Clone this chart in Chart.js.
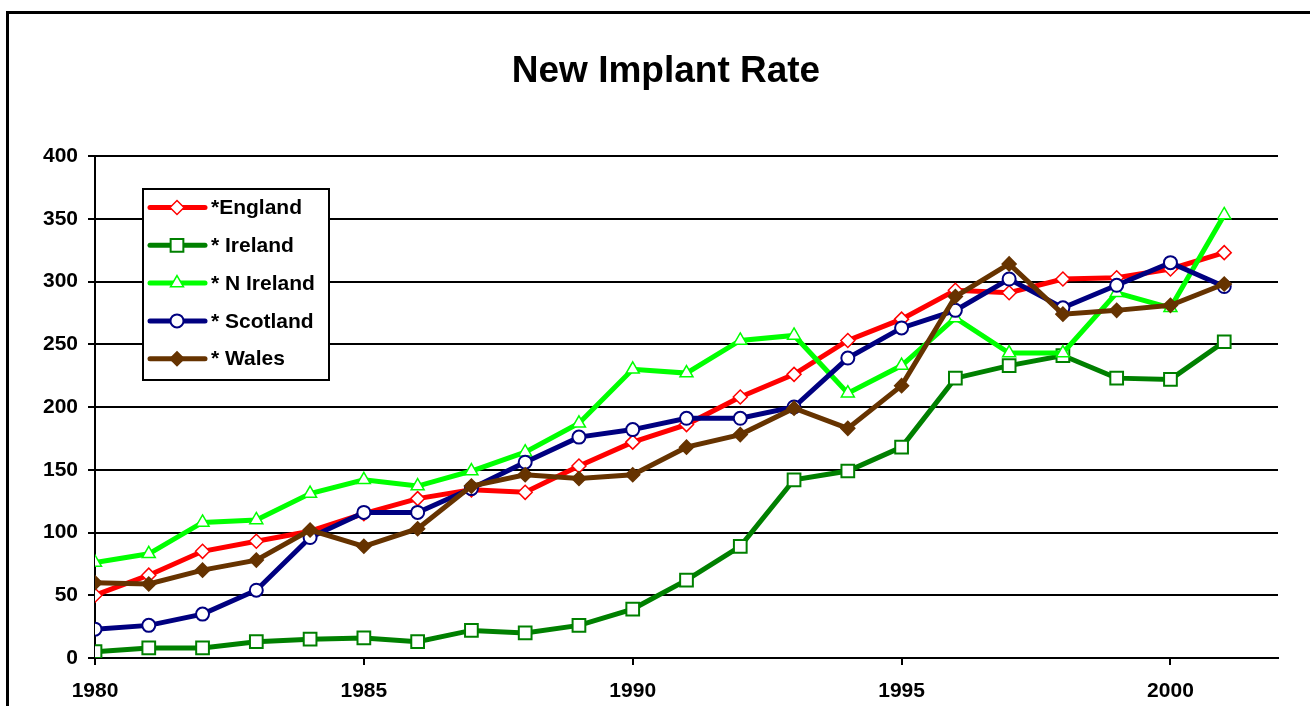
<!DOCTYPE html>
<html>
<head>
<meta charset="utf-8">
<script src="https://cdn.jsdelivr.net/npm/chart.js@4/dist/chart.umd.min.js"></script>
<style>
  html, body { margin: 0; padding: 0; background: #fff; }
  #wrap { width: 1310px; height: 706px; position: relative; }
</style>
</head>
<body>
<div id="wrap"><canvas id="c" width="1310" height="706"></canvas></div>
<script>
const chartTitle = "New Implant Rate";
const years = [1980, 1981, 1982, 1983, 1984, 1985, 1986, 1987, 1988, 1989, 1990, 1991, 1992, 1993, 1994, 1995, 1996, 1997, 1998, 1999, 2000, 2001];
const seriesNames = ["*England", "* Ireland", "* N Ireland", "* Scotland", "* Wales"];
const england  = [50, 66, 85, 93, 101, 115, 127, 134, 132, 153, 172, 186, 208, 226, 253, 270, 293, 291, 302, 303, 310, 323];
const ireland  = [5, 8, 8, 13, 15, 16, 13, 22, 20, 26, 39, 62, 89, 142, 149, 168, 223, 233, 241, 223, 222, 252];
const nireland = [76, 83, 108, 110, 131, 142, 137, 149, 164, 187, 230, 227, 253, 257, 211, 233, 271, 243, 243, 291, 279, 353];
const scotland = [23, 26, 35, 54, 96, 116, 116, 135, 156, 176, 182, 191, 191, 200, 239, 263, 277, 302, 279, 297, 315, 296];
const wales    = [60, 59, 70, 78, 102, 89, 103, 137, 146, 143, 146, 168, 178, 199, 183, 217, 288, 314, 274, 277, 281, 298];
const xTickLabels = [1980, 1985, 1990, 1995, 2000];
const yTickValues = [0, 50, 100, 150, 200, 250, 300, 350, 400];

const FONT = "'Liberation Sans', Arial, sans-serif";

function pts(vals) { return years.map((y, i) => ({ x: y, y: vals[i] })); }

const styles = [
  { color: '#FF0000', pointStyle: 'rectRot', radius: 7, fill: '#FFFFFF', bw: 1.5, order: 5 },
  { color: '#008000', pointStyle: 'rect', radius: 9, fill: '#FFFFFF', bw: 2, order: 4 },
  { color: '#00FF00', pointStyle: 'triangle', radius: 7.5, fill: '#FFFFFF', bw: 1.5, order: 3 },
  { color: '#000080', pointStyle: 'circle', radius: 6.5, fill: '#FFFFFF', bw: 2, order: 2 },
  { color: '#663300', pointStyle: 'rectRot', radius: 7, fill: '#663300', bw: 1.5, order: 1 }
];
const seriesData = [england, ireland, nireland, scotland, wales];

const datasets = seriesData.map((vals, i) => ({
  label: seriesNames[i],
  data: pts(vals),
  borderColor: styles[i].color,
  backgroundColor: styles[i].fill,
  borderWidth: 5,
  pointStyle: styles[i].pointStyle,
  pointRadius: styles[i].radius,
  pointHoverRadius: styles[i].radius,
  pointBackgroundColor: styles[i].fill,
  pointBorderColor: styles[i].color,
  pointBorderWidth: styles[i].bw,
  tension: 0,
  order: styles[i].order
}));

const framePlugin = {
  id: 'frame',
  beforeDraw(chart) {
    const ctx = chart.ctx;
    ctx.save();
    ctx.fillStyle = '#fff';
    ctx.fillRect(0, 0, chart.width, chart.height);
    ctx.strokeStyle = '#000';
    ctx.lineWidth = 3;
    ctx.strokeRect(7.5, 12.5, chart.width + 20, chart.height + 20);
    ctx.fillStyle = '#000';
    ctx.font = 'bold 37px ' + FONT;
    ctx.textAlign = 'center';
    ctx.textBaseline = 'alphabetic';
    ctx.fillText(chartTitle, 666, 82);
    ctx.restore();
  }
};

const legendPlugin = {
  id: 'inlineLegend',
  afterDatasetsDraw(chart) {
    const ctx = chart.ctx;
    const x0 = 143, y0 = 189, w = 186, h = 191;
    ctx.save();
    ctx.fillStyle = '#fff';
    ctx.fillRect(x0, y0, w, h);
    ctx.strokeStyle = '#000';
    ctx.lineWidth = 2;
    ctx.strokeRect(x0, y0, w, h);
    const rowY0 = 207.5, rowStep = 37.8;
    chart.data.datasets.forEach((ds, i) => {
      const y = rowY0 + i * rowStep;
      ctx.strokeStyle = ds.borderColor;
      ctx.lineWidth = 5;
      ctx.lineCap = 'round';
      ctx.beginPath();
      ctx.moveTo(150, y);
      ctx.lineTo(205, y);
      ctx.stroke();
      ctx.fillStyle = ds.pointBackgroundColor;
      ctx.strokeStyle = ds.pointBorderColor;
      ctx.lineWidth = ds.pointBorderWidth;
      Chart.helpers.drawPoint(ctx, { pointStyle: ds.pointStyle, radius: ds.pointRadius, rotation: 0, borderWidth: ds.pointBorderWidth }, 177, y);
      ctx.fillStyle = '#000';
      ctx.font = 'bold 21px ' + FONT;
      ctx.textBaseline = 'middle';
      ctx.textAlign = 'left';
      ctx.fillText(ds.label, 211, y + 1);
    });
    ctx.restore();
  }
};

new Chart(document.getElementById('c'), {
  type: 'line',
  data: { datasets },
  plugins: [framePlugin, legendPlugin],
  options: {
    responsive: false,
    animation: false,
    events: [],
    layout: { padding: { left: 0, right: 32, top: 156, bottom: 0 } },
    plugins: {
      legend: { display: false },
      tooltip: { enabled: false },
      title: { display: false }
    },
    scales: {
      x: {
        type: 'linear',
        min: 1980,
        max: 2002,
        afterBuildTicks(scale) {
          scale.ticks = xTickLabels.map(v => ({ value: v }));
        },
        afterFit(scale) { scale.height = 48; },
        ticks: {
          color: '#000',
          font: { family: FONT, size: 21, weight: 'bold' },
          padding: 14,
          maxRotation: 0,
          autoSkip: false,
          callback: v => String(v)
        },
        grid: { display: true, drawOnChartArea: false, drawTicks: true, tickLength: 7, color: '#000', lineWidth: 2 },
        border: { display: true, color: '#000', width: 2 }
      },
      y: {
        type: 'linear',
        min: 0,
        max: 400,
        afterBuildTicks(scale) {
          scale.ticks = yTickValues.map(v => ({ value: v }));
        },
        afterFit(scale) { scale.width = 95; },
        ticks: {
          color: '#000',
          font: { family: FONT, size: 21, weight: 'bold' },
          padding: 10,
          callback: v => String(v)
        },
        grid: { display: true, drawOnChartArea: true, drawTicks: true, tickLength: 7, color: '#000', lineWidth: 2 },
        border: { display: true, color: '#000', width: 2 }
      }
    }
  }
});
</script>
</body>
</html>
